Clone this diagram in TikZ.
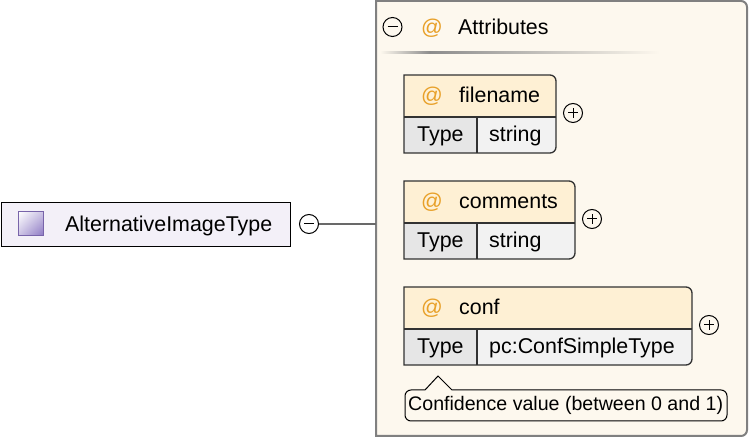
\documentclass[tikz,border=0pt]{standalone}
\usepackage{fontspec}
\setmainfont{Liberation Sans}
\usetikzlibrary{shadings}
\definecolor{panelbg}{RGB}{253,248,238}
\definecolor{panelline}{RGB}{128,128,128}
\definecolor{headbg}{RGB}{254,240,212}
\definecolor{typebg}{RGB}{230,230,230}
\definecolor{valbg}{RGB}{242,242,242}
\definecolor{typeboxbg}{RGB}{243,240,248}
\definecolor{iconpurple}{RGB}{140,120,195}
\definecolor{iconline}{RGB}{120,100,170}
\definecolor{atorange}{RGB}{232,160,40}
\definecolor{darkline}{RGB}{50,50,50}
\begin{document}
\begin{tikzpicture}[x=1pt,y=1pt,
    every node/.style={font=\fontsize{21.4}{25}\selectfont, inner sep=0pt},
    boxline/.style={line width=1.3pt, draw=darkline},
    connline/.style={line width=2pt, draw={rgb,255:red,105;green,105;blue,105}},
    btn/.style={circle, draw=black, line width=1pt, minimum size=19pt},
    minusbtn/.style={btn, path picture={\draw[line width=1pt] ([xshift=-5pt]path picture bounding box.center) -- ([xshift=5pt]path picture bounding box.center);}},
    plusbtn/.style={btn, path picture={\draw[line width=1pt] ([xshift=-5pt]path picture bounding box.center) -- ([xshift=5pt]path picture bounding box.center) ([yshift=-5pt]path picture bounding box.center) -- ([yshift=5pt]path picture bounding box.center);}},
    attext/.style={anchor=base west, text=atorange},
    notefont/.style={font=\fontsize{19.6}{23}\selectfont}]
    \useasboundingbox (0,0) rectangle (750,439);
    % complex type box
    \node[draw=black, line width=1.3pt, fill=typeboxbg, minimum width=289pt, minimum height=44pt, anchor=north west] (alt) at (1,237) {};
    \shade[upper left=white, lower right=iconpurple, upper right=iconpurple!45, lower left=iconpurple!45] (18,203) rectangle (43,227);
    \draw[iconline, line width=1pt] (18,203) rectangle (43,227);
    \node[anchor=base west] (alt-name) at (65,207) {AlternativeImageType};
    \node[minusbtn] (alt-minus) at (309,215) {};
    % attributes panel
    \fill[panelbg] (376,3) -- (376,438) -- (741,438) arc[start angle=90, end angle=0, radius=6] -- (747,9) arc[start angle=0, end angle=-90, radius=6] -- cycle;
    \draw[panelline, line width=2pt] (376,3) -- (376,438) -- (741,438) arc[start angle=90, end angle=0, radius=6] -- (747,9) arc[start angle=0, end angle=-90, radius=6] -- cycle;
    \coordinate (attrs-in) at (376,215);
    \draw[connline] (alt-minus) -- (attrs-in);
    \node[minusbtn] (attrs-minus) at (392.5,412) {};
    \node[attext] (attrs-at) at (421,404) {@};
    \node[anchor=base west] (attrs-title) at (458,404) {Attributes};
    \shade[left color=panelbg, right color=black!45] (380,385) rectangle (430,387.5);
    \shade[left color=black!45, right color=panelbg] (430,385) rectangle (660,387.5);
    % attribute boxes
    \foreach \attr/\ytop/\xr/\val in {filename/364/556/string, comments/258/575/string, conf/152/692/pc:ConfSimpleType}{
        \begin{scope}
            \clip (404,\ytop) -- (\xr-6,\ytop) arc[start angle=90, end angle=0, radius=6] -- (\xr,\ytop-72) arc[start angle=0, end angle=-90, radius=6] -- (404,\ytop-78) -- cycle;
            \fill[headbg] (404,\ytop) rectangle (\xr,\ytop-42);
            \fill[valbg] (404,\ytop-42) rectangle (\xr,\ytop-78);
            \fill[typebg] (404,\ytop-42) rectangle (477,\ytop-78);
        \end{scope}
        \draw[boxline] (404,\ytop-42) -- (\xr,\ytop-42) (477,\ytop-42) -- (477,\ytop-78);
        \draw[boxline] (404,\ytop) -- (\xr-6,\ytop) arc[start angle=90, end angle=0, radius=6] -- (\xr,\ytop-72) arc[start angle=0, end angle=-90, radius=6] -- (404,\ytop-78) -- cycle;
        \node[attext] (\attr-at) at (421,\ytop-28) {@};
        \node[anchor=base west] (\attr-name) at (459,\ytop-28) {\attr};
        \node[anchor=base west] (\attr-type) at (417,\ytop-67) {Type};
        \node[anchor=base west] (\attr-val) at (489,\ytop-67) {\val};
        \node[plusbtn] (\attr-plus) at (\xr+17,\ytop-38) {};
    }
    % annotation of conf
    \draw[black, line width=1pt, fill=panelbg] (411,49) -- (425,49) -- (438,63) -- (452,49) -- (721,49) arc[start angle=90, end angle=0, radius=6] -- (727,24) arc[start angle=0, end angle=-90, radius=6] -- (411,18) arc[start angle=270, end angle=180, radius=6] -- (405,43) arc[start angle=180, end angle=90, radius=6] -- cycle;
    \node[notefont, anchor=base west] (conf-note) at (408,28) {Confidence value (between 0 and 1)};
\end{tikzpicture}
\end{document}
